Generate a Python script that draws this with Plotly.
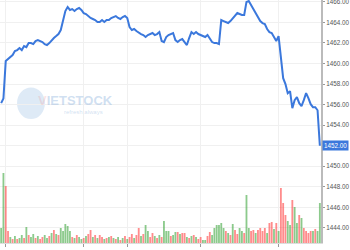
import plotly.graph_objects as go

price = [
    1456.14, 1456.60, 1460.23, 1460.42, 1460.62, 1460.81, 1461.20, 1461.30, 1461.50, 1461.30,
    1461.69, 1461.59, 1461.98, 1461.98, 1461.88, 1462.18, 1462.27, 1462.18, 1462.08, 1461.88,
    1461.79, 1461.98, 1462.27, 1462.47, 1462.66, 1462.86, 1463.25, 1464.12, 1465.10, 1465.49,
    1465.20, 1465.29, 1465.10, 1465.29, 1465.39, 1465.20, 1464.90, 1464.81, 1464.61, 1464.42,
    1464.32, 1464.22, 1464.03, 1464.03, 1464.22, 1464.03, 1464.22, 1464.22, 1464.42, 1464.51,
    1464.61, 1464.42, 1464.32, 1464.51, 1464.61, 1464.42, 1463.54, 1463.25, 1463.35, 1463.15,
    1462.96, 1462.86, 1462.76, 1462.57, 1462.76, 1462.86, 1462.96, 1462.76, 1462.86, 1463.05,
    1462.18, 1462.08, 1462.57, 1462.76, 1462.86, 1462.96, 1462.27, 1462.08, 1462.27, 1462.37,
    1462.08, 1461.79, 1462.47, 1463.05, 1462.86, 1463.05, 1462.86, 1462.76, 1462.66, 1462.57,
    1462.76, 1462.37, 1462.08, 1461.98, 1461.98, 1461.88, 1464.22, 1464.12, 1464.03, 1463.93,
    1464.12, 1464.42, 1464.71, 1464.90, 1464.81, 1464.71, 1464.71, 1465.98, 1466.07, 1465.68,
    1465.29, 1465.00, 1464.61, 1464.12, 1463.93, 1463.83, 1463.35, 1463.05, 1462.96, 1462.57,
    1462.18, 1462.66, 1460.32, 1458.57, 1457.99, 1457.11, 1457.30, 1455.65, 1456.43, 1456.72,
    1456.14, 1455.85, 1456.43, 1457.11, 1456.62, 1456.04, 1455.75, 1455.75, 1455.45, 1452.00,
]

volume = [
    15, 70, 57, 12, 6, 4, 7, 4, 5, 8,
    5, 16, 8, 6, 9, 5, 7, 4, 6, 8,
    5, 7, 10, 13, 9, 8, 15, 12, 19, 17,
    12, 6, 5, 8, 6, 4, 5, 7, 9, 13,
    6, 8, 5, 8, 6, 4, 5, 6, 7, 5,
    4, 6, 3, 5, 7, 4, 6, 9, 5, 8,
    15, 7, 9, 18, 12, 6, 10, 7, 5, 8,
    6, 22, 12, 12, 7, 8, 11, 11, 9, 10,
    10, 6, 5, 7, 8, 6, 4, 6, 3, 3,
    7, 11, 8, 15, 18, 18, 20, 15, 12, 10,
    8, 19, 13, 9, 15, 12, 10, 48, 15, 12,
    13, 10, 13, 15, 12, 15, 10, 20, 21, 14,
    20, 12, 55, 40, 28, 22, 18, 43, 36, 20,
    28, 25, 15, 12, 10, 12, 12, 14, 12, 40,
]

side = list(
    "GGRRGRGRGG" "RGRGGRGRRG" "GRGRGRGGGG" "GRGRGGRGRR" "GRGRRGRGRG"
    "RGRGRGRRGR" "RGRGGRRGRG" "RGGGRGGRGR" "RGRGRGRRGG" "RRGGGGGGRG"
    "RGRRGGRGGR" "RGRRRRGRRG" "RGRRRGGRGG" "RGRRRRGRGG"
)

tick_index = [2, 36, 55, 87, 121]
tick_labels = ["09:15", "10:00", "10:30", "13:00", "14:00"]

price_ticks = [1444, 1446, 1448, 1450, 1452, 1454, 1456, 1458, 1460, 1462, 1464, 1466]
last_price = price[-1]
price_tick_text = ["" if abs(v - last_price) < 0.5 else f"{v:.2f}" for v in price_ticks]

x = list(range(len(price)))
bar_colors = ["rgba(70,170,70,0.62)" if s == "G" else "rgba(255,70,70,0.62)" for s in side]

fig = go.Figure()
fig.add_trace(go.Bar(x=x, y=volume, marker=dict(color=bar_colors, line=dict(width=0)),
                     yaxis="y", hoverinfo="skip"))
fig.add_trace(go.Scatter(x=x, y=price, mode="lines", yaxis="y2",
                         line=dict(color="#3b78dc", width=2)))

wm = "rgba(150,185,225,0.45)"
fig.update_layout(
    width=350, height=250,
    margin=dict(l=0, r=29, t=0, b=7, autoexpand=False),
    paper_bgcolor="white", plot_bgcolor="white",
    showlegend=False, bargap=0.2,
    font=dict(family="Arial, Liberation Sans, sans-serif", size=7, color="#555"),
    xaxis=dict(range=[-0.5, len(price) - 0.5], tickmode="array", tickvals=tick_index,
               ticktext=tick_labels, showgrid=True, gridcolor="#f0f0f0", gridwidth=1,
               ticks="outside", ticklen=3, tickcolor="#999", showline=True,
               linecolor="#ddd", zeroline=False, tickfont=dict(size=7, color="#666"),
               automargin=False, ticklabeloverflow="allow"),
    yaxis=dict(range=[0, 243], visible=False, fixedrange=True),
    yaxis2=dict(range=[1442.54, 1466.17], overlaying="y", side="right",
                tickmode="array", tickvals=price_ticks, ticktext=price_tick_text,
                showgrid=True, gridcolor="#f0f0f0", zeroline=False,
                showline=True, linecolor="#bbb", linewidth=2,
                ticks="outside", ticklen=2, tickcolor="#999",
                tickfont=dict(size=6.3, color="#555"),
                automargin=False, ticklabeloverflow="allow"),
    annotations=[
        dict(x=1, xref="paper", xanchor="left", xshift=1, y=last_price, yref="y2",
             text=f"{last_price:.2f}", showarrow=False, bgcolor="#3b78dc",
             font=dict(color="white", size=6.3), borderpad=1),
        dict(x=0.235, xref="paper", xanchor="center", y=1456.4, yref="y2",
             text="<b><span style='color:rgba(240,140,140,0.5)'>V</span>IETSTOCK</b>",
             showarrow=False, font=dict(size=13, color=wm)),
        dict(x=0.26, xref="paper", xanchor="center", y=1455.3, yref="y2",
             text="refresh always", showarrow=False, font=dict(size=6, color=wm)),
    ],
    shapes=[
        dict(type="circle", xref="paper", yref="paper", x0=0.053, x1=0.14,
             y0=0.51, y1=0.64, fillcolor="rgba(160,195,230,0.35)", line=dict(width=0),
             layer="below"),
    ],
)

fig.write_html("out.html")
